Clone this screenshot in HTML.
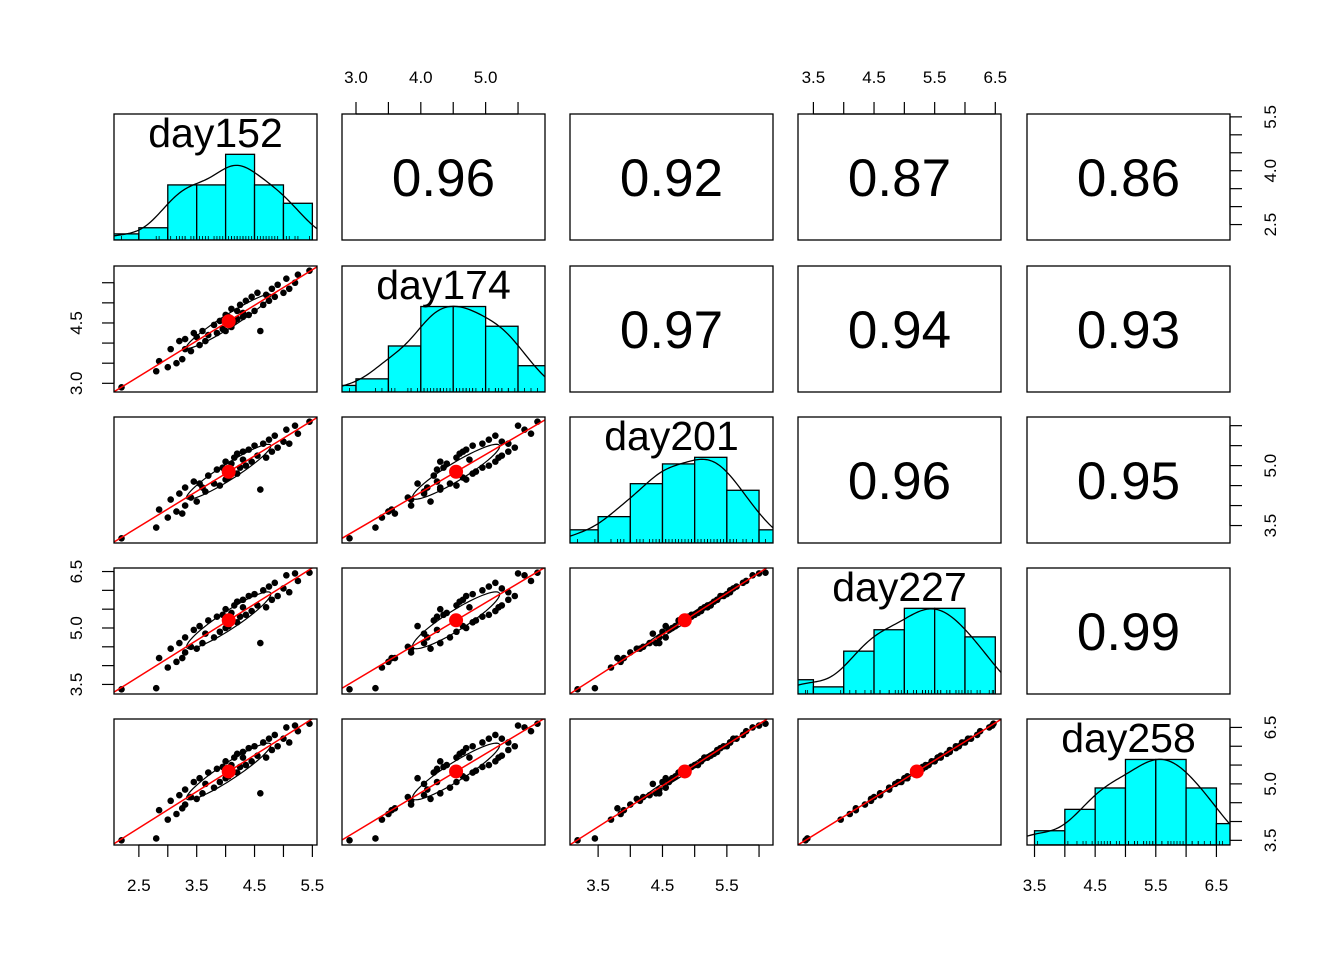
<!DOCTYPE html>
<html><head><meta charset="utf-8"><style>
body{margin:0;background:#fff}
svg{display:block;font-family:"Liberation Sans",Arial,sans-serif}
</style></head><body>
<svg id="chart" width="1344" height="960" viewBox="0 0 1344 960" xmlns="http://www.w3.org/2000/svg"></svg>
<script>
const varNames = ["day152","day174","day201","day227","day258"];
const day152 = [2.20,2.80,2.85,3.00,3.05,3.15,3.20,3.25,3.30,3.30,3.40,3.45,3.50,3.55,3.60,3.65,3.70,3.80,3.85,3.90,3.95,4.00,4.00,4.05,4.10,4.10,4.15,4.20,4.20,4.25,4.30,4.30,4.35,4.40,4.45,4.50,4.55,4.60,4.65,4.70,4.75,4.80,4.85,4.90,5.00,5.05,5.10,5.20,5.25,5.45];
const day174 = [2.90,3.30,3.55,3.40,3.85,3.50,4.05,3.60,4.10,3.85,3.80,4.25,4.15,3.95,4.30,4.05,4.20,4.45,4.25,4.55,4.35,4.70,4.30,4.65,4.40,4.85,4.55,4.80,4.60,4.95,4.75,4.65,5.05,4.70,5.15,4.80,5.25,4.30,4.95,5.20,5.05,5.35,5.15,5.45,5.25,5.60,5.35,5.50,5.70,5.80];
const day201 = [3.18,3.45,3.90,3.70,4.15,3.85,4.30,3.80,4.45,4.00,4.20,4.60,4.10,4.55,4.45,4.35,4.75,4.55,4.90,4.50,4.95,4.65,5.10,4.70,5.05,4.85,5.20,4.80,5.30,4.95,5.15,5.35,5.00,5.40,5.10,5.50,5.25,4.40,5.55,5.20,5.65,5.35,5.75,5.45,5.60,5.90,5.55,6.00,5.80,6.10];
const day227 = [3.37,3.40,4.20,3.95,4.45,4.10,4.60,4.20,4.75,4.35,4.50,4.95,4.45,5.05,4.60,4.85,5.20,4.75,5.30,4.90,5.35,5.00,5.50,5.05,5.40,5.20,5.60,5.15,5.70,5.30,5.55,5.75,5.35,5.85,5.45,5.90,5.60,4.60,6.00,5.55,6.10,5.75,6.20,5.85,6.05,6.40,5.95,6.45,6.25,6.47];
const day258 = [3.50,3.55,4.30,4.05,4.55,4.20,4.70,4.35,4.85,4.45,4.65,5.05,4.60,5.15,4.75,5.00,5.30,4.90,5.40,5.05,5.45,5.15,5.60,5.20,5.50,5.35,5.70,5.30,5.80,5.45,5.70,5.85,5.50,5.95,5.60,6.00,5.75,4.75,6.10,5.70,6.20,5.90,6.30,6.00,6.20,6.50,6.10,6.55,6.40,6.60];
// upper-triangle correlation labels, row-major
const corrLabels = ["0.96","0.92","0.87","0.86","0.97","0.94","0.93","0.96","0.95","0.99"];
const tickValues = [[2.5,3,3.5,4,4.5,5,5.5],[3,3.5,4,4.5,5,5.5],[3.5,4,4.5,5,5.5,6],[3.5,4,4.5,5,5.5,6,6.5],[3.5,4,4.5,5,5.5,6,6.5]];
const topLabels = [[],["3.0","4.0","5.0"],[],["3.5","4.5","5.5","6.5"],[]];
const bottomLabels = [["2.5","3.5","4.5","5.5"],[],["3.5","4.5","5.5"],[],["3.5","4.5","5.5","6.5"]];
const leftLabels = [[],["3.0","4.5"],[],["3.5","5.0","6.5"],[]];
const rightLabels = [["2.5","4.0","5.5"],[],["3.5","5.0"],[],["3.5","5.0","6.5"]];

const data=[day152,day174,day201,day227,day258];
const colX=[114,342,570,798,1027], rowY=[114,266,417,568,719], PW=203, PH=126;
const svg=document.getElementById('chart');
const NS='http://www.w3.org/2000/svg';
function mk(tag,at,parent){const e=document.createElementNS(NS,tag);for(const k in at)e.setAttribute(k,at[k]);(parent||svg).appendChild(e);return e;}
const rng=data.map(v=>{const mn=Math.min(...v),mx=Math.max(...v),d=mx-mn;return [mn-0.04*d,mx+0.04*d];});
function sx(j,v){return colX[j]+(v-rng[j][0])/(rng[j][1]-rng[j][0])*PW;}
function sy(i,v){return rowY[i]+PH-(v-rng[i][0])/(rng[i][1]-rng[i][0])*PH;}
const mean=a=>a.reduce((s,x)=>s+x,0)/a.length;
const sd=a=>{const m=mean(a);return Math.sqrt(a.reduce((s,x)=>s+(x-m)*(x-m),0)/(a.length-1));};
const n=day152.length;
let ci=0;
for(let i=0;i<5;i++)for(let j=0;j<5;j++){
  const g=mk('g',{});
  
  
  const cid='c'+i+j;
  const cp=mk('clipPath',{id:cid},g);mk('rect',{x:colX[j],y:rowY[i],width:PW,height:PH},cp);
  const inner=mk('g',{'clip-path':'url(#'+cid+')'},g);
  if(i===j){
    const v=data[i],lo=rng[i][0],hi=rng[i][1];
    const b0=Math.floor(Math.min(...v)*2)/2;const breaks=[];for(let b=b0;b<Math.max(...v)+1e-9;b+=0.5)breaks.push(b);breaks.push(breaks[breaks.length-1]+0.5);
    const counts=breaks.slice(0,-1).map((b,k)=>v.filter(x=>x>=b&&(x<breaks[k+1]||(k===breaks.length-2&&x<=breaks[k+1]))).length);
    const dens=counts.map(c=>c/(n*0.5));
    const s=sd(v),bw=0.9*s*Math.pow(n,-0.2);
    const kde=[];for(let k=0;k<=100;k++){const x=lo+(hi-lo)*k/100;let d=0;for(const p of v)d+=Math.exp(-0.5*((x-p)/bw)**2);kde.push([x,d/(n*bw*Math.sqrt(2*Math.PI))]);}
    const ymax=Math.max(...dens,...kde.map(p=>p[1]));
    const hy=d=>rowY[i]+PH-d/ymax*PH*0.68;
    counts.forEach((c,k)=>{const r=mk('rect',{x:sx(i,breaks[k]),y:hy(dens[k]),width:sx(i,breaks[k+1])-sx(i,breaks[k]),height:rowY[i]+PH-hy(dens[k]),fill:'#00ffff',stroke:'#000','stroke-width':1.3},inner);
      });
    const kp=mk('polyline',{points:kde.map(p=>sx(i,p[0])+','+hy(p[1])).join(' '),fill:'none',stroke:'#000','stroke-width':1.3},inner);
    
    v.forEach(p=>mk('line',{x1:sx(i,p),x2:sx(i,p),y1:rowY[i]+PH,y2:rowY[i]+PH-4,stroke:'#000','stroke-width':0.8},inner));
    const t=mk('text',{x:colX[j]+PW/2,y:rowY[i]+33,'font-size':41,'text-anchor':'middle'},g);t.textContent=varNames[i];
    
  } else if(j>i){
    const t=mk('text',{x:colX[j]+PW/2,y:rowY[i]+PH/2+19,'font-size':53,'text-anchor':'middle'},g);t.textContent=corrLabels[ci++];
    
  } else {
    const xv=data[j],yv=data[i],mx=mean(xv),my=mean(yv),sxv=sd(xv),syv=sd(yv);
    let cov=0;for(let k=0;k<n;k++)cov+=(xv[k]-mx)*(yv[k]-my);cov/=(n-1);const r=cov/(sxv*syv);
    const slope=cov/(sxv*sxv),icp=my-slope*mx;
    const d=Math.acos(r),ep=[];for(let k=0;k<=60;k++){const a=2*Math.PI*k/60;ep.push(sx(j,mx+sxv*Math.cos(a+d/2))+','+sy(i,my+syv*Math.cos(a-d/2)));}
    const el=mk('polyline',{points:ep.join(' '),fill:'none',stroke:'#000','stroke-width':1.2},inner);
    
    for(let k=0;k<n;k++){const c=mk('circle',{cx:sx(j,xv[k]),cy:sy(i,yv[k]),r:3.3,fill:'#000'},inner);
      }
    const ln=mk('line',{x1:sx(j,rng[j][0]),y1:sy(i,icp+slope*rng[j][0]),x2:sx(j,rng[j][1]),y2:sy(i,icp+slope*rng[j][1]),stroke:'#ff0000','stroke-width':1.5},inner);
    
    const m=mk('circle',{cx:sx(j,mx),cy:sy(i,my),r:7,fill:'#ff0000'},inner);
    
  }
  mk('rect',{x:colX[j],y:rowY[i],width:PW,height:PH,fill:'none',stroke:'#000','stroke-width':1.3},g);
}
function hAxis(j,top,labels){
  const g=mk('g',{});
  const y0=top?rowY[0]:rowY[4]+PH, dir=top?-1:1;
  const tv=tickValues[j];
  mk('line',{x1:sx(j,tv[0]),x2:sx(j,tv[tv.length-1]),y1:y0,y2:y0,stroke:'#000','stroke-width':1.2},g);
  tv.forEach(v=>mk('line',{x1:sx(j,v),x2:sx(j,v),y1:y0,y2:y0+dir*12,stroke:'#000','stroke-width':1.2},g));
  labels.forEach(l=>{const t=mk('text',{x:sx(j,parseFloat(l)),y:top?83:891,'font-size':17,'text-anchor':'middle'},g);t.textContent=l;});
}
function vAxis(i,left,labels){
  const g=mk('g',{});
  const x0=left?colX[0]:colX[4]+PW, dir=left?-1:1;
  const tv=tickValues[i];
  mk('line',{x1:x0,x2:x0,y1:sy(i,tv[0]),y2:sy(i,tv[tv.length-1]),stroke:'#000','stroke-width':1.2},g);
  tv.forEach(v=>mk('line',{x1:x0,x2:x0+dir*12,y1:sy(i,v),y2:sy(i,v),stroke:'#000','stroke-width':1.2},g));
  labels.forEach(l=>{const x=left?82:1276,y=sy(i,parseFloat(l));const t=mk('text',{x:x,y:y,'font-size':17,'text-anchor':'middle',transform:'rotate(-90 '+x+' '+y+')'},g);t.textContent=l;});
}
for(let j=0;j<5;j++){if(topLabels[j].length)hAxis(j,true,topLabels[j]);if(bottomLabels[j].length)hAxis(j,false,bottomLabels[j]);}
for(let i=0;i<5;i++){if(leftLabels[i].length)vAxis(i,true,leftLabels[i]);if(rightLabels[i].length)vAxis(i,false,rightLabels[i]);}
</script>
</body></html>
